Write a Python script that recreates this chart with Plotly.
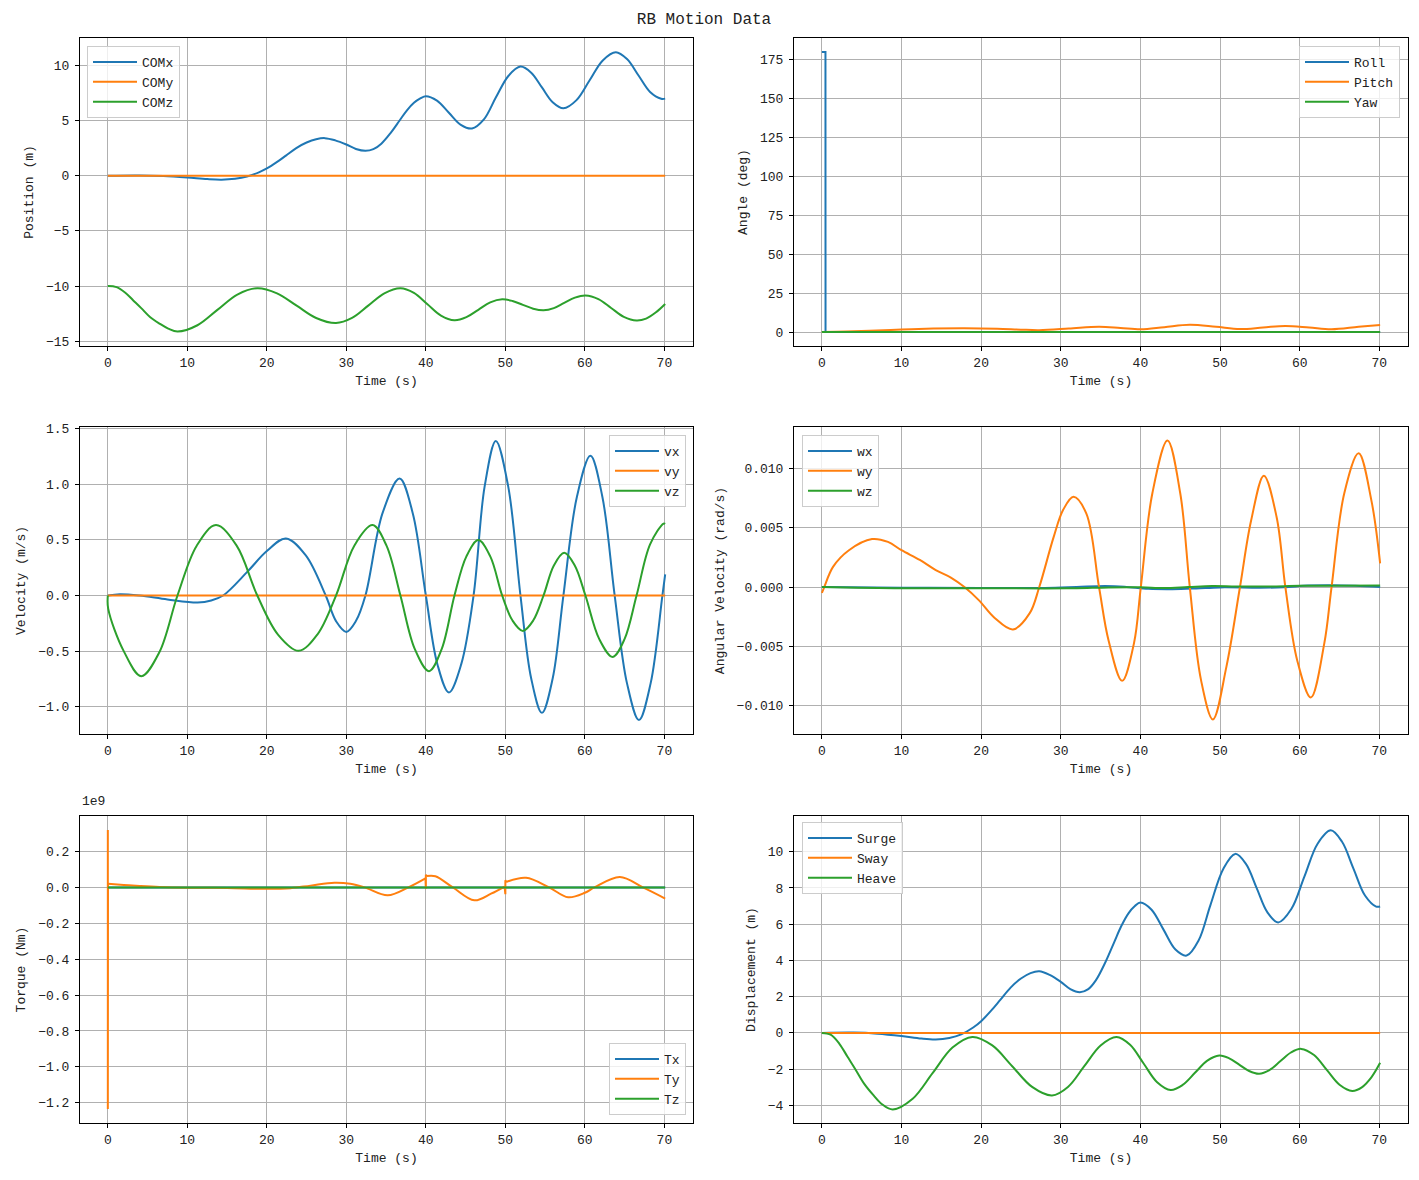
import plotly.graph_objects as go

# ---------------- data ----------------
T_END = 70.1
T_FLAT = [0, T_END]
ZERO_FLAT = [0, 0]

COMX_T = [0, 4, 7, 10, 12.5, 14.3, 16, 17.5, 19, 20, 21.2, 22.4, 23.7, 25, 26.2, 27.3, 28.6, 30,
          31.2, 32.4, 33.4, 34.4, 35.6, 36.7, 37.6, 38.5, 39.3, 40.0, 41.4, 42.9, 44.4, 45.8, 47.3,
          48.8, 50.4, 51.9, 53.25, 54.6, 55.95, 57.3, 58.95, 60.6, 62.25, 63.9, 65.3, 66.75, 68.2,
          69.6, 70.1]
COMX = [0, 0.02, -0.04, -0.17, -0.31, -0.36, -0.28, -0.08, 0.3, 0.65, 1.2, 1.82, 2.5, 3.0, 3.3, 3.4,
        3.2, 2.82, 2.42, 2.25, 2.4, 2.9, 3.9, 5.0, 5.9, 6.6, 7.0, 7.2, 6.8, 5.7, 4.6, 4.27, 5.1,
        7.07, 9.05, 9.88, 9.33, 7.99, 6.65, 6.1, 6.84, 8.64, 10.44, 11.18, 10.56, 9.07, 7.58, 6.97,
        6.98]

COMZ_T = [0, 1.1, 2.2, 3.2, 4.2, 5.3, 6.5, 7.6, 8.76, 11.27, 13.78, 16.29, 18.8, 21.28, 23.75,
          26.2, 28.7, 30.72, 32.75, 34.78, 36.8, 38.5, 40.2, 41.9, 43.6, 45.1, 46.6, 48.1, 49.6,
          50.9, 52.2, 53.5, 54.8, 56.1, 57.4, 58.75, 60.07, 61.7, 63.3, 64.9, 66.5, 67.7, 68.9, 70.1]
COMZ = [-10.0, -10.1, -10.6, -11.3, -12.0, -12.8, -13.4, -13.85, -14.12, -13.55, -12.16, -10.77,
        -10.2, -10.66, -11.775, -12.89, -13.35, -12.89, -11.775, -10.66, -10.2, -10.62, -11.65,
        -12.68, -13.1, -12.82, -12.15, -11.48, -11.2, -11.35, -11.7, -12.05, -12.2, -12.0, -11.525,
        -11.05, -10.85, -11.18, -11.985, -12.79, -13.12, -12.95, -12.4, -11.62]

ROLL_T = [0, 0.45, 0.46, T_END]
ROLL = [180, 180, 0, 0]
PITCH_T = [0, 3, 6, 10, 14, 17.9, 22, 25, 27.3, 31, 34.8, 37.5, 40.05, 43, 46.2, 49.5, 52.5, 55.4,
           58.2, 61.2, 64, 67.4, 70.1]
PITCH = [0, 0.3, 0.85, 1.6, 2.2, 2.4, 2.1, 1.5, 1.2, 2.2, 3.4, 2.6, 1.7, 3.1, 4.6, 3.3, 1.9, 2.9,
         3.9, 2.9, 1.8, 3.4, 4.5]

VX_T = [0, 1.5, 4, 7.5, 11.3, 13, 14.5, 17.5, 20, 22.4, 24.9, 27.4, 28.7, 30, 31.2, 32.4, 34.55,
        36.7, 38.35, 40.0, 41.45, 42.9, 44.45, 46.0, 47.4, 48.8, 50.35, 51.9, 53.25, 54.6, 55.95,
        57.3, 59.0, 60.7, 62.2, 63.75, 65.3, 66.8, 68.27, 69.75, 70.1]
VX = [0, 0.012, 0.0, -0.035, -0.063, -0.045, 0.0, 0.21, 0.4, 0.513, 0.36, 0.0, -0.23, -0.327,
      -0.23, 0.0, 0.74, 1.052, 0.74, 0.0, -0.617, -0.872, -0.617, 0.0, 0.983, 1.39, 0.983, 0.0,
      -0.746, -1.055, -0.746, 0.0, 0.888, 1.256, 0.888, 0.0, -0.79, -1.12, -0.79, 0.0, 0.19]

VZ_T = [0, 0.05, 2, 4.2, 6.48, 8.76, 11.18, 13.6, 16.2, 18.8, 21.4, 24.0, 26.35, 28.7, 31.0, 33.3,
        35.05, 36.8, 38.6, 40.4, 42.0, 43.6, 45.1, 46.6, 48.1, 49.6, 50.9, 52.2, 53.5, 54.8, 56.1,
        57.4, 58.73, 60.07, 61.8, 63.5, 65.0, 66.5, 68.2, 69.9, 70.1]
VZ = [0.0, -0.12, -0.5, -0.725, -0.51, 0.0, 0.448, 0.633, 0.448, 0.0, -0.351, -0.497, -0.351, 0.0,
      0.448, 0.633, 0.448, 0.0, -0.48, -0.68, -0.48, 0.0, 0.352, 0.498, 0.352, 0.0, -0.225,
      -0.318, -0.225, 0.0, 0.27, 0.384, 0.27, 0.0, -0.39, -0.552, -0.39, 0.0, 0.46, 0.647, 0.645]

WX_T = [0, 10, 20, 28, 32, 35.5, 38, 41, 44, 47, 50, 55, 58, 61, 64, 67, 70.1]
WX = [0, -0.00005, -0.00008, -0.00008, 0.0, 0.00008, 0.00003, -0.00015, -0.00018, -0.00012,
      -0.00003, -0.00006, -0.00002, 0.00012, 0.00015, 0.0001, 0.0]
WY_T = [0, 0.3, 1.4, 3.4, 6.3, 8.3, 10.0, 12.3, 14.3, 16.2, 17.9, 19.7, 21.7, 24.0, 26.1, 27.3,
        29.1, 30.3, 31.6, 33.2, 34.8, 36.0, 37.7, 39.2, 40.05, 41.5, 43.4, 45.0, 46.2, 47.6, 49.1,
        50.8, 52.5, 53.9, 55.5, 57.1, 58.2, 59.7, 61.4, 63.1, 64.0, 65.6, 67.4, 69.0, 70.1]
WY = [-0.0005, 0.0, 0.0017, 0.0031, 0.00404, 0.0038, 0.0031, 0.00228, 0.00143, 0.0008, 0.0,
      -0.0011, -0.0026, -0.00357, -0.0022, 0.0, 0.0042, 0.0065, 0.0076, 0.0062, 0.0, -0.0045,
      -0.0079, -0.0047, 0.0, 0.0079, 0.01233, 0.0079, 0.0, -0.0078, -0.01115, -0.0067, 0.0, 0.0056,
      0.00938, 0.0059, 0.0, -0.0062, -0.0093, -0.0047, 0.0, 0.0079, 0.01126, 0.0073, 0.002]
WZ_T = [0, 10, 20, 28, 32, 36, 40, 43, 46, 49, 52, 56, 60, 64, 70.1]
WZ = [0, -0.0001, -0.0001, -0.00012, -0.0001, -0.00003, -0.00002, -0.00008, 0.0, 0.00008, 0.00005,
      0.00004, 0.0001, 0.0001, 0.00012]

# torque Ty in units of 1e9 N*m; smooth pieces separated by None, spikes drawn straight
TY_T = [0.02, 2, 4, 6.5, 10, 15, 20, 23, 25.5, 28.5, 30.5, 32.3, 35.2, 37.8, 39.95, None,
        40.1, 41.2, 43.4, 46.1, 48.2, 49.9, None,
        50.1, 52.6, 55.5, 57.9, 60, 61.2, 64.4, 67.3, 70.1]
TY = [0.02, 0.014, 0.008, 0.002, -0.002, -0.003, -0.008, -0.004, 0.01, 0.026, 0.02, 0.0, -0.044,
      0.0, 0.05, None,
      0.063, 0.062, 0.0, -0.072, -0.035, 0.005, None,
      0.03, 0.054, 0.0, -0.055, -0.03, 0.0, 0.058, 0.0, -0.062]
TY_SPIKE_T = [0, 0, 0.02, None, 39.95, 40, 40, 40.1, None, 49.9, 50, 50, 50.1]
TY_SPIKE = [0.32, -1.235, 0.02, None, 0.05, -0.008, 0.07, 0.063, None, 0.005, -0.038, 0.04, 0.03]

SURGE_T = COMX_T
SURGE = COMX
HEAVE_T = [0, 1.1, 2.2, 3.2, 4.2, 5.3, 6.5, 7.6, 8.9, 11.4, 13.9, 16.4, 18.9, 21.4, 23.9, 26.4,
           28.9, 30.9, 32.95, 35.0, 37.0, 38.7, 40.4, 42.1, 43.8, 45.3, 46.85, 48.4, 49.9, 51.15,
           52.4, 53.65, 54.9, 56.2, 57.55, 58.9, 60.2, 61.8, 63.4, 65.0, 66.6, 67.8, 69.0, 70.1]
HEAVE = [0, -0.1, -0.6, -1.3, -2.0, -2.8, -3.45, -3.95, -4.22, -3.63, -2.22, -0.81, -0.22, -0.69,
         -1.835, -2.98, -3.45, -2.98, -1.835, -0.69, -0.22, -0.65, -1.685, -2.72, -3.15, -2.87,
         -2.2, -1.53, -1.25, -1.4, -1.75, -2.1, -2.25, -2.05, -1.565, -1.08, -0.88, -1.22, -2.04,
         -2.86, -3.2, -3.0, -2.45, -1.65]

X_TICKS = [0, 10, 20, 30, 40, 50, 60, 70]

# ---------------- styling ----------------
C1, C2, C3 = "#1f77b4", "#ff7f0e", "#2ca02c"
FONT = "Liberation Mono"
TXT = "#222222"
OFF = 8                      # page body margin of the browser
W, H = 1419 - OFF, 1180 - OFF
LW = 2

def px_x(a, b):
    return [(a - OFF) / W, (b - OFF) / W]

def px_y(top, bottom):
    return [1 - (bottom - OFF) / H, 1 - (top - OFF) / H]

def pxx(a):
    return (a - OFF) / W

def pxy(a):
    return 1 - (a - OFF) / H

XD = [px_x(80, 693), px_x(794, 1408)]
YD = [px_y(38, 346), px_y(427, 734), px_y(816, 1123)]

fig = go.Figure()

def line(x, y, name, color, axis, legend, shape="spline", showlegend=True, group=None):
    fig.add_trace(go.Scatter(
        x=x, y=y, name=name, mode="lines",
        line=dict(color=color, width=LW, shape=shape, smoothing=1.0),
        xaxis="x" + axis, yaxis="y" + axis, legend=legend,
        showlegend=showlegend, legendgroup=group or name + axis,
        connectgaps=False, hoverinfo="skip"))

# panel 1
line(COMX_T, COMX, "COMx", C1, "", "legend")
line(T_FLAT, ZERO_FLAT, "COMy", C2, "", "legend", "linear")
line(COMZ_T, COMZ, "COMz", C3, "", "legend")
# panel 2
line(ROLL_T, ROLL, "Roll", C1, "2", "legend2", "linear")
line(PITCH_T, PITCH, "Pitch", C2, "2", "legend2")
line(T_FLAT, ZERO_FLAT, "Yaw", C3, "2", "legend2", "linear")
# panel 3
line(VX_T, VX, "vx", C1, "3", "legend3")
line(T_FLAT, ZERO_FLAT, "vy", C2, "3", "legend3", "linear")
line(VZ_T, VZ, "vz", C3, "3", "legend3")
# panel 4
line(WX_T, WX, "wx", C1, "4", "legend4")
line(WY_T, WY, "wy", C2, "4", "legend4")
line(WZ_T, WZ, "wz", C3, "4", "legend4")
# panel 5
line(T_FLAT, ZERO_FLAT, "Tx", C1, "5", "legend5", "linear")
line(TY_T, TY, "Ty", C2, "5", "legend5", group="ty")
line(TY_SPIKE_T, TY_SPIKE, "Ty", C2, "5", "legend5", "linear", showlegend=False, group="ty")
line(T_FLAT, ZERO_FLAT, "Tz", C3, "5", "legend5", "linear")
# panel 6
line(SURGE_T, SURGE, "Surge", C1, "6", "legend6")
line(T_FLAT, ZERO_FLAT, "Sway", C2, "6", "legend6", "linear")
line(HEAVE_T, HEAVE, "Heave", C3, "6", "legend6")

axis_common = dict(
    showline=True, mirror=True, linecolor="black", linewidth=1,
    ticks="outside", ticklen=4, tickcolor="black", tickwidth=1,
    showgrid=True, gridcolor="#b0b0b0", gridwidth=0.8, zeroline=False,
    tickfont=dict(family=FONT, size=13, color=TXT),
    automargin=False,
)

YSPEC = [
    dict(range=[-15.43, 12.47], tickvals=[-15, -10, -5, 0, 5, 10], title="Position (m)", fmt="d"),
    dict(range=[-9, 189], tickvals=[0, 25, 50, 75, 100, 125, 150, 175], title="Angle (deg)", fmt="d"),
    dict(range=[-1.245, 1.515], tickvals=[-1.0, -0.5, 0.0, 0.5, 1.0, 1.5], title="Velocity (m/s)", fmt=".1f"),
    dict(range=[-0.012375, 0.013475], tickvals=[-0.01, -0.005, 0.0, 0.005, 0.01], title="Angular Velocity (rad/s)", fmt=".3f"),
    dict(range=[-1.313, 0.398], tickvals=[-1.2, -1.0, -0.8, -0.6, -0.4, -0.2, 0.0, 0.2], title="Torque (Nm)", fmt=".1f"),
    dict(range=[-4.97, 11.97], tickvals=[-4, -2, 0, 2, 4, 6, 8, 10], title="Displacement (m)", fmt="d"),
]

layout = {}
for i in range(6):
    row, col = divmod(i, 2)
    sfx = "" if i == 0 else str(i + 1)
    spec = YSPEC[i]
    layout["xaxis" + sfx] = dict(
        axis_common, domain=XD[col], anchor="y" + sfx, range=[-3.5, 73.6],
        tickvals=X_TICKS,
        title=dict(text="Time (s)", font=dict(family=FONT, size=13, color=TXT), standoff=6))
    layout["yaxis" + sfx] = dict(
        axis_common, domain=YD[row], anchor="x" + sfx, range=spec["range"],
        tickvals=spec["tickvals"], tickformat=spec["fmt"], ticklabelstandoff=3,
        title=dict(text=spec["title"], font=dict(family=FONT, size=13, color=TXT), standoff=9))

legend_common = dict(
    bgcolor="rgba(255,255,255,0.8)", bordercolor="#cccccc", borderwidth=1,
    font=dict(family=FONT, size=13, color=TXT), tracegroupgap=0, itemwidth=44)
LEG = [
    (87, 46, "left", "top"), (1400, 46, "right", "top"),
    (686, 435, "right", "top"), (802, 435, "left", "top"),
    (686, 1115, "right", "bottom"), (802, 822, "left", "top"),
]
for i, (lx, ly, xa, ya) in enumerate(LEG):
    key = "legend" if i == 0 else "legend%d" % (i + 1)
    layout[key] = dict(legend_common, x=pxx(lx), y=pxy(ly), xanchor=xa, yanchor=ya)

fig.update_layout(
    width=W, height=H, margin=dict(l=0, r=0, t=0, b=0),
    paper_bgcolor="white", plot_bgcolor="white",
    font=dict(family=FONT, size=13, color=TXT),
    title=dict(text="RB Motion Data", x=pxx(704), y=pxy(18), xanchor="center", yanchor="middle",
               font=dict(family=FONT, size=16, color=TXT)),
    annotations=[dict(text="1e9", x=pxx(80), y=pxy(801), xref="paper", yref="paper",
                      xanchor="left", yanchor="middle", showarrow=False,
                      font=dict(family=FONT, size=13, color=TXT))],
    **layout,
)

fig.write_html("out.html")
